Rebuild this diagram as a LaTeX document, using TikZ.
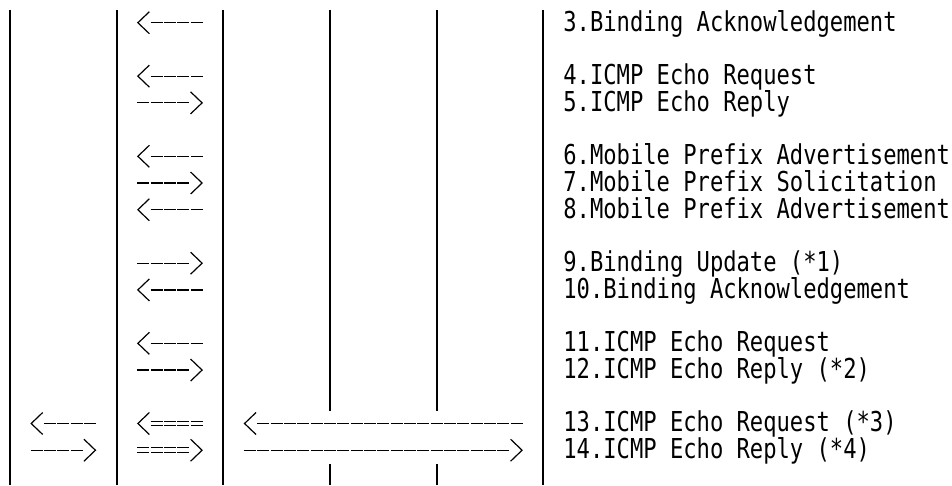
\documentclass[tikz,border=0pt]{standalone}
\usepackage{fontspec}
\newfontfamily\gothic[FakeStretch=0.8083]{DejaVu Sans Mono}
\newcommand\LArr[5]{%
  \coordinate (#1-head) at ({3.333+13.333*#2+1.2},{22.7+26.72*#3});
  \coordinate (#1-tail) at ({3.333+13.333*(#2+#4)-0.667},{22.7+26.72*#3});
  \draw[chev] ([shift={(11.5pt,11pt)}]#1-head) -- (#1-head) -- ([shift={(11.5pt,-11pt)}]#1-head);
  \draw[#5] ([xshift=12.8pt]#1-head) -- (#1-tail);
}
\newcommand\RArr[5]{%
  \coordinate (#1-tail) at ({3.333+13.333*#2+0.667},{22.7+26.72*#3});
  \coordinate (#1-head) at ({3.333+13.333*(#2+#4-1)+12.1},{22.7+26.72*#3});
  \draw[#5] (#1-tail) -- ([xshift=-12.767pt]#1-head);
  \draw[chev] ([shift={(-11.5pt,11pt)}]#1-head) -- (#1-head) -- ([shift={(-11.5pt,-11pt)}]#1-head);
}
\tikzset{
  bar/.style={line width=2pt, line cap=butt},
  dsh/.style={line width=1.25pt, dash pattern=on 12pt off 1.333pt},
  dbl/.style={line width=1.1pt, dash pattern=on 12pt off 1.333pt, double, double distance=3.5pt},
  chev/.style={line width=1.2pt, line join=miter},
  txt/.style={font=\gothic\fontsize{27.4pt}{27.4pt}\selectfont, anchor=base west, inner sep=0pt, outer sep=0pt}
}
\begin{document}
\begin{tikzpicture}[x=1pt,y=-1pt]
\useasboundingbox[fill=white] (0,0) rectangle (952,485);
% lifelines
\foreach \c [count=\i from 0] in {0,8,16,24,32,40} {
  \coordinate (b\i-top) at ({10+13.333*\c},10);
  \coordinate (b\i-bot) at ({10+13.333*\c},485);
  \coordinate (b\i-ga) at ({10+13.333*\c},410.8);
  \coordinate (b\i-gb) at ({10+13.333*\c},464.2);
}
\draw[bar] (b0-top) -- (b0-bot);
\draw[bar] (b1-top) -- (b1-bot);
\draw[bar] (b2-top) -- (b2-bot);
\draw[bar] (b3-top) -- (b3-ga) (b3-gb) -- (b3-bot);
\draw[bar] (b4-top) -- (b4-ga) (b4-gb) -- (b4-bot);
\draw[bar] (b5-top) -- (b5-bot);
% arrows between columns 1 and 2
\LArr{a3}{10}{0}{5}{dsh}
\LArr{a4}{10}{2}{5}{dsh}
\RArr{a5}{10}{3}{5}{dsh}
\LArr{a6}{10}{5}{5}{dsh}
\RArr{a7}{10}{6}{5}{dsh}
\LArr{a8}{10}{7}{5}{dsh}
\RArr{a9}{10}{9}{5}{dsh}
\LArr{a10}{10}{10}{5}{dsh}
\LArr{a11}{10}{12}{5}{dsh}
\RArr{a12}{10}{13}{5}{dsh}
\LArr{a13m}{10}{15}{5}{dbl}
\RArr{a14m}{10}{16}{5}{dbl}
\LArr{a13l}{2}{15}{5}{dsh}
\RArr{a14l}{2}{16}{5}{dsh}
\LArr{a13r}{18}{15}{21}{dsh}
\RArr{a14r}{18}{16}{21}{dsh}
% labels
\node[txt] (t3) at (563.33,31) {3.Binding Acknowledgement};
\node[txt] (t4) at (563.33,{31+26.72*2}) {4.ICMP Echo Request};
\node[txt] (t5) at (563.33,{31+26.72*3}) {5.ICMP Echo Reply};
\node[txt] (t6) at (563.33,{31+26.72*5}) {6.Mobile Prefix Advertisement};
\node[txt] (t7) at (563.33,{31+26.72*6}) {7.Mobile Prefix Solicitation};
\node[txt] (t8) at (563.33,{31+26.72*7}) {8.Mobile Prefix Advertisement};
\node[txt] (t9) at (563.33,{31+26.72*9}) {9.Binding Update (*1)};
\node[txt] (t10) at (563.33,{31+26.72*10}) {10.Binding Acknowledgement};
\node[txt] (t11) at (563.33,{31+26.72*12}) {11.ICMP Echo Request};
\node[txt] (t12) at (563.33,{31+26.72*13}) {12.ICMP Echo Reply (*2)};
\node[txt] (t13) at (563.33,{31+26.72*15}) {13.ICMP Echo Request (*3)};
\node[txt] (t14) at (563.33,{31+26.72*16}) {14.ICMP Echo Reply (*4)};
\end{tikzpicture}
\end{document}
